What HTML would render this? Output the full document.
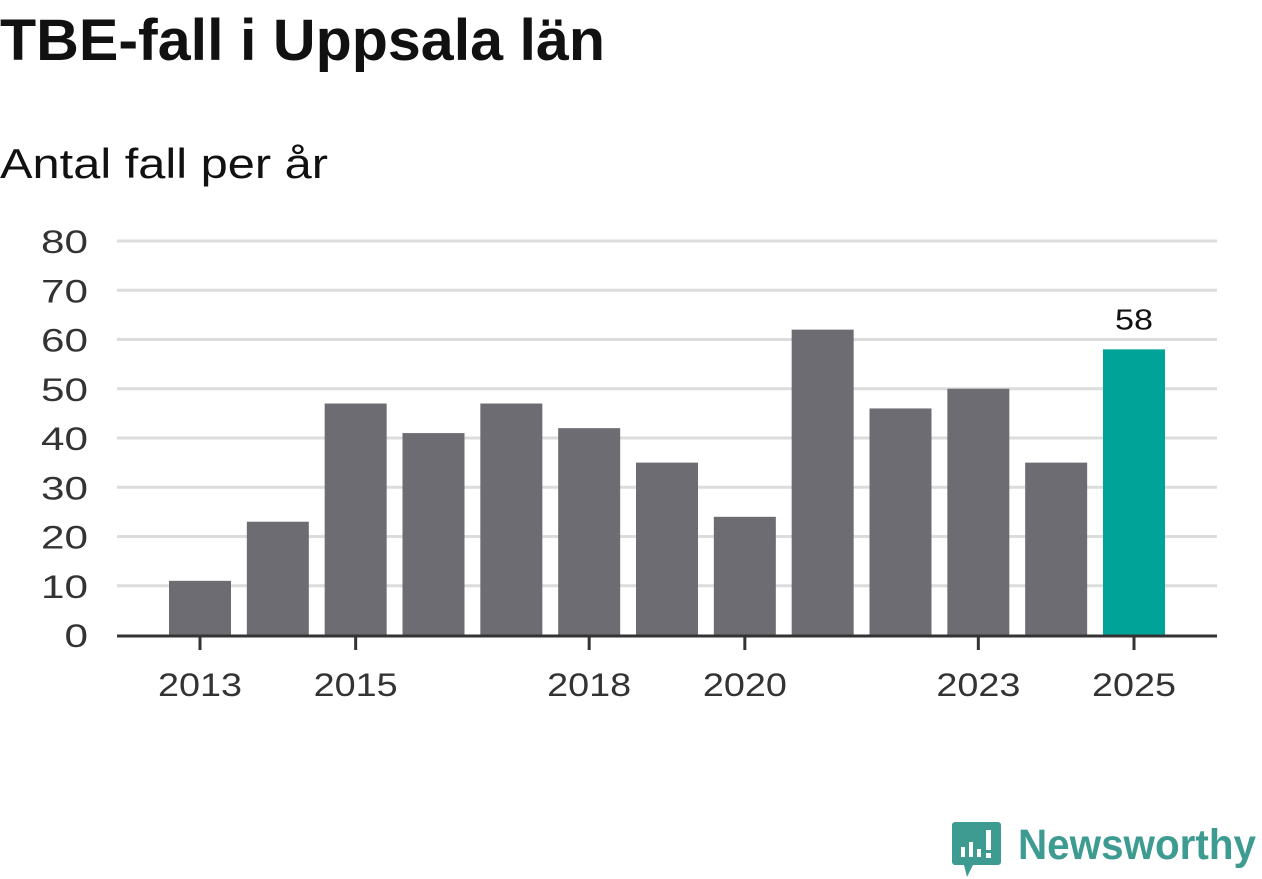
<!DOCTYPE html>
<html><head><meta charset="utf-8"><style>
html,body{margin:0;padding:0;background:#fff;width:1262px;height:879px;overflow:hidden}
svg{display:block;font-family:"Liberation Sans",sans-serif}
</style></head><body>
<svg id="chart" width="1262" height="879" viewBox="0 0 1262 879">
<text x="0" y="60" font-size="58" font-weight="bold" fill="#111" textLength="605" lengthAdjust="spacingAndGlyphs">TBE-fall i Uppsala län</text>
<text x="0" y="178" font-size="42" fill="#111" textLength="328" lengthAdjust="spacingAndGlyphs">Antal fall per år</text>
<g id="grid"></g>
<g id="bars"></g>
<g id="xaxis"></g>
<g>
<path d="M955 822 h43 a3 3 0 0 1 3 3 v37 a3 3 0 0 1 -3 3 h-25 l-6 12 l-3 -12 h-9 a3 3 0 0 1 -3 -3 v-37 a3 3 0 0 1 3 -3z" fill="#3d9b91"/>
<rect x="961" y="847" width="4" height="10" fill="#fff"/>
<rect x="969" y="842" width="4" height="15" fill="#fff"/>
<rect x="977" y="849" width="4" height="8" fill="#fff"/>
<rect x="986" y="830" width="5" height="20" fill="#fff"/>
<rect x="986" y="853" width="5" height="5" fill="#fff"/>
<text x="1018" y="859" font-size="43" font-weight="bold" fill="#3d9b91" textLength="238" lengthAdjust="spacingAndGlyphs">Newsworthy</text>
</g>
</svg>
<script>
const years = [2013,2014,2015,2016,2017,2018,2019,2020,2021,2022,2023,2024,2025];
const values = [11,23,47,41,47,42,35,24,62,46,50,35,58];
const yTicks = [0,10,20,30,40,50,60,70,80];
const xTickYears = [2013,2015,2018,2020,2023,2025];
const NS="http://www.w3.org/2000/svg";
const y0=635, yPer=(635-241)/80, xL=117, xR=1217;
const yScale=v=>y0-v*yPer;
const xScale=yr=>200+(yr-2013)*((1134-200)/12);
function mk(tag,attrs,parent){const e=document.createElementNS(NS,tag);for(const k in attrs)e.setAttribute(k,attrs[k]);parent.appendChild(e);return e;}
const grid=document.getElementById('grid'),bars=document.getElementById('bars'),xa=document.getElementById('xaxis');
yTicks.forEach(t=>{
  if(t>0){const l=mk('line',{x1:xL,x2:xR,y1:yScale(t),y2:yScale(t),stroke:'#dcdcdc','stroke-width':3},grid);
  
  }
  const s=String(t);
  const tx=mk('text',{x:88,y:yScale(t)+12,'font-size':32,fill:'#333','text-anchor':'end',textLength:s.length*23.5,lengthAdjust:'spacingAndGlyphs'},grid);
  tx.textContent=s;
  
  
});
years.forEach((yr,i)=>{
  const last=i===years.length-1;
  const r=mk('rect',{x:xScale(yr)-31,y:yScale(values[i]),width:62,height:y0-yScale(values[i]),fill:last?'#00a398':'#6d6c73'},bars);
  
  
  if(last){const t=mk('text',{x:xScale(yr),y:yScale(values[i])-20,'font-size':29,fill:'#111','text-anchor':'middle',textLength:38,lengthAdjust:'spacingAndGlyphs'},bars);
  t.textContent=values[i];
  
  }
});
const ax=mk('line',{x1:xL,x2:xR,y1:636,y2:636,stroke:'#333','stroke-width':3},xa);


xTickYears.forEach(yr=>{
  const tk=mk('line',{x1:xScale(yr),x2:xScale(yr),y1:636,y2:650,stroke:'#333','stroke-width':3},xa);
  
  
  const t=mk('text',{x:xScale(yr),y:696,'font-size':32,fill:'#333','text-anchor':'middle',textLength:84,lengthAdjust:'spacingAndGlyphs'},xa);
  t.textContent=yr;
  
  
});
</script>
</body></html>
